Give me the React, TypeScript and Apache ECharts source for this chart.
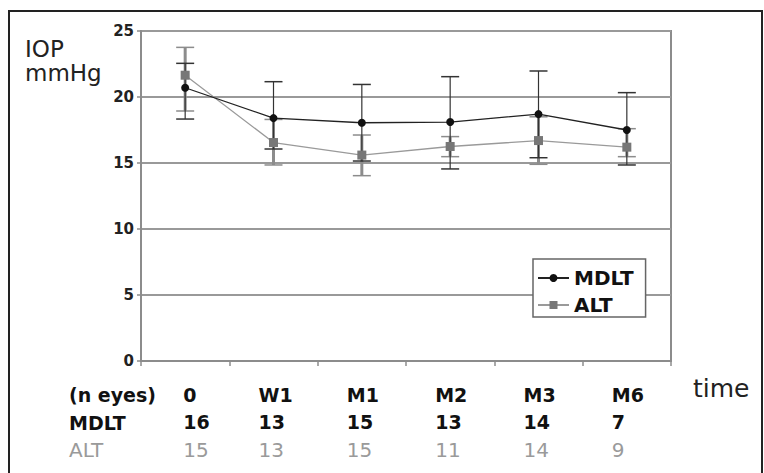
import React, { useEffect, useRef } from "react";
import * as echarts from "echarts";

const categories = ["0", "W1", "M1", "M2", "M3", "M6"];
const mdltMean = [20.7, 18.4, 18.05, 18.1, 18.7, 17.5];
const mdltLow = [18.33, 16.06, 15.15, 14.55, 15.4, 14.85];
const mdltHigh = [22.55, 21.16, 20.95, 21.54, 21.97, 20.33];
const altMean = [21.65, 16.55, 15.6, 16.25, 16.7, 16.2];
const altLow = [18.94, 14.85, 14.04, 15.48, 14.9, 15.48];
const altHigh = [23.76, 18.3, 17.12, 17.0, 18.5, 17.6];
const mdltEyes = [16, 13, 15, 13, 14, 7];
const altEyes = [15, 13, 15, 11, 14, 9];
const rowLabels = ["(n eyes)", "MDLT", "ALT"];
const yAxisTitle = "IOP\nmmHg";
const xAxisTitle = "time";

const FONT = "DejaVu Sans";

function makeErr(color: string, barWidth: number, capWidth: number) {
  return (params: any, api: any) => {
    const x = api.value(0);
    const lo = api.coord([x, api.value(1)]);
    const hi = api.coord([x, api.value(2)]);
    const cx = lo[0];
    const hw = 9;
    return {
      type: "group",
      children: [
        { type: "line", shape: { x1: cx, y1: hi[1], x2: cx, y2: lo[1] }, style: { stroke: color, lineWidth: barWidth } },
        { type: "line", shape: { x1: cx - hw, y1: hi[1], x2: cx + hw, y2: hi[1] }, style: { stroke: color, lineWidth: capWidth } },
        { type: "line", shape: { x1: cx - hw, y1: lo[1], x2: cx + hw, y2: lo[1] }, style: { stroke: color, lineWidth: capWidth } },
      ],
    };
  };
}

export default function App() {
  const ref = useRef<HTMLDivElement>(null);
  useEffect(() => {
    if (!ref.current) return;
    const chart = echarts.init(ref.current, null, { renderer: "svg" });
    const rowBase = { fontFamily: FONT, lineHeight: 27.5, align: "left" as const };
    const option: any = {
      animation: false,
      backgroundColor: "#fff",
      grid: { left: 141, right: 93, top: 31, bottom: 112, show: true, borderColor: "#8c8c8c", borderWidth: 2, backgroundColor: "#fff" },
      legend: {
        data: [{ name: "MDLT" }, { name: "ALT" }],
        orient: "vertical",
        left: 533,
        top: 259,
        padding: [9, 12, 2, 4],
        itemGap: 7,
        itemWidth: 31,
        itemHeight: 10,
        backgroundColor: "#fff",
        borderColor: "#666",
        borderWidth: 1.5,
        textStyle: { fontFamily: FONT, fontWeight: "bold", fontSize: 20, color: "#111" },
      },
      xAxis: {
        type: "category",
        data: categories,
        boundaryGap: true,
        axisLine: { lineStyle: { color: "#8c8c8c", width: 2 } },
        axisTick: { show: true, length: 5, lineStyle: { color: "#8c8c8c", width: 1.5 } },
        axisLabel: {
          interval: 0,
          margin: 20,
          formatter: (value: string, index: number) => {
            const s = index === 0 ? "0" : "";
            return `{h${s}|${value}}\n{m${s}|${mdltEyes[index]}}\n{l${s}|${altEyes[index]}}`;
          },
          rich: {
            h: { ...rowBase, width: 30, fontWeight: "bold", fontSize: 19, color: "#111" },
            m: { ...rowBase, width: 30, fontWeight: "bold", fontSize: 19, color: "#111" },
            l: { ...rowBase, width: 30, fontWeight: "normal", fontSize: 20, color: "#9a9a9a" },
            h0: { ...rowBase, width: 4, fontWeight: "bold", fontSize: 19, color: "#111" },
            m0: { ...rowBase, width: 4, fontWeight: "bold", fontSize: 19, color: "#111" },
            l0: { ...rowBase, width: 4, fontWeight: "normal", fontSize: 20, color: "#9a9a9a" },
          },
        },
        splitLine: { show: false },
      },
      yAxis: {
        type: "value",
        min: 0,
        max: 25,
        interval: 5,
        axisLine: { show: true, lineStyle: { color: "#8c8c8c", width: 2 } },
        axisTick: { show: true, length: 4, lineStyle: { color: "#8c8c8c", width: 1.5 } },
        axisLabel: { fontFamily: FONT, fontWeight: "bold", fontSize: 15, color: "#222", margin: 7, padding: [6, 0, 0, 0] },
        splitLine: { show: true, lineStyle: { color: "#999", width: 2 } },
      },
      series: [
        {
          name: "ALT SD",
          type: "custom",
          renderItem: makeErr("#8c8c8c", 3, 1.5),
          data: categories.map((c, i) => [i, altLow[i], altHigh[i]]),
          encode: { x: 0, y: [1, 2] },
          z: 2,
        },
        {
          name: "MDLT SD",
          type: "custom",
          renderItem: makeErr("#333", 1.2, 1.5),
          data: categories.map((c, i) => [i, mdltLow[i], mdltHigh[i]]),
          encode: { x: 0, y: [1, 2] },
          z: 3,
        },
        {
          name: "ALT",
          type: "line",
          data: altMean,
          symbol: "rect",
          symbolSize: 9,
          itemStyle: { color: "#777" },
          lineStyle: { color: "#9a9a9a", width: 1.3 },
          z: 4,
        },
        {
          name: "MDLT",
          type: "line",
          data: mdltMean,
          symbol: "circle",
          symbolSize: 8,
          itemStyle: { color: "#111" },
          lineStyle: { color: "#222", width: 1.3 },
          z: 5,
        },
      ],
      graphic: [
        {
          type: "polyline",
          shape: { points: [[9, 473], [9, 11], [762, 11], [762, 473]] },
          style: { stroke: "#222", lineWidth: 2, fill: null },
        },
        {
          type: "text",
          x: 25,
          y: 37,
          style: { text: yAxisTitle, fontFamily: FONT, fontSize: 23, lineHeight: 24, fill: "#222" },
        },
        ...rowLabels.map((t, i) => ({
          type: "text",
          x: 69,
          y: [395, 422.5, 450][i],
          style: {
            text: t,
            fontFamily: FONT,
            fontWeight: i === 2 ? "normal" : "bold",
            fontSize: i === 2 ? 20 : 19,
            fill: i === 2 ? "#9a9a9a" : "#111",
            verticalAlign: "middle",
          },
        })),
        {
          type: "text",
          x: 693,
          y: 388,
          style: { text: xAxisTitle, fontFamily: FONT, fontSize: 25, fill: "#222", verticalAlign: "middle" },
        },
      ],
    };
    chart.setOption(option);
    return () => chart.dispose();
  }, []);
  return <div ref={ref} style={{ position: "absolute", left: 0, top: 0, width: 764, height: 473 }} />;
}
